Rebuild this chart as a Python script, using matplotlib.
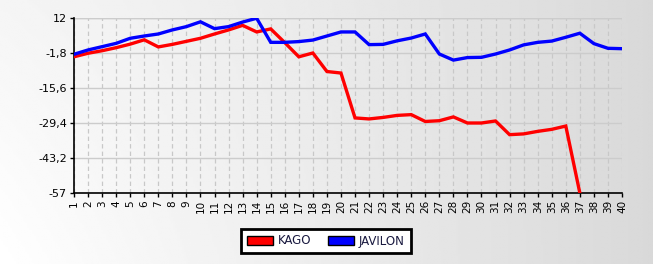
import numpy as np
import matplotlib
matplotlib.use('Agg')
import matplotlib.pyplot as plt
from matplotlib.patches import Patch

# series values
days = list(range(1, 41))
kago = [-3.3, -1.9, -0.9, 0.3, 1.7, 3.4, 0.6, 1.6, 2.8, 4.0,
        5.7, 7.3, 9.1, 6.5, 7.7, 2.3, -3.3, -1.8, -9.1, -9.7,
        -27.4, -27.8, -27.2, -26.4, -26.1, -28.8, -28.5, -27.0, -29.4, -29.4,
        -28.6, -34.0, -33.7, -32.7, -31.9, -30.6, -57.0]
javilon = [-2.3, -0.6, 0.7, 2.0, 4.0, 4.9, 5.7, 7.3, 8.6, 10.5,
           7.8, 8.6, 10.4, 11.9, 2.4, 2.4, 2.7, 3.3, 4.9, 6.5,
           6.5, 1.5, 1.6, 3.0, 4.1, 5.7, -2.2, -4.6, -3.6, -3.5,
           -2.2, -0.6, 1.4, 2.4, 2.9, 4.4, 6.0, 1.9, 0.05, -0.1]
yticks = [12, -1.8, -15.6, -29.4, -43.2, -57]
ytick_labels = ['12', '-1,8', '-15,6', '-29,4', '-43,2', '-57']

fig = plt.figure(figsize=(6.53, 2.64), dpi=100)

# background gradient, light on the left, grey on the right
bg = fig.add_axes([0, 0, 1, 1], zorder=-10)
gx = np.linspace(0, 1, 300)
gy = np.linspace(0, 1, 120)
X, Y = np.meshgrid(gx, gy)
shade = 1.0 - 0.15 * X - 0.04 * (1 - Y) * (1 - X) ** 2
bg.imshow(shade, cmap='gray', vmin=0, vmax=1, aspect='auto', extent=[0, 1, 0, 1])
bg.axis('off')

ax = fig.add_axes([74 / 653, 1 - 193 / 264, (622 - 74) / 653, (193 - 18) / 264])
ax.patch.set_alpha(0)

ax.plot(days[:len(kago)], kago, color='#ff0000', lw=2.4, solid_joinstyle='miter', zorder=3)
ax.plot(days, javilon, color='#0000ff', lw=2.4, solid_joinstyle='miter', zorder=3)

ax.set_xlim(1, 40)
ax.set_ylim(-57, 12)
ax.set_xticks(days)
ax.set_xticklabels([str(d) for d in days], rotation=90, fontsize=7.5)
ax.set_yticks(yticks)
ax.set_yticklabels(ytick_labels, fontsize=8)
ax.tick_params(axis='both', length=3, width=1, color='black', pad=2)

ax.grid(axis='y', color='#cccccc', lw=1, ls='-')
ax.grid(axis='x', color='#c8c8c8', lw=0.9, ls=(0, (3.5, 2.5)))
ax.axhline(12, color='#cccccc', lw=1, zorder=1)
for s in ['top', 'right']:
    ax.spines[s].set_visible(False)
for s in ['left', 'bottom']:
    ax.spines[s].set_linewidth(1.2)
    ax.spines[s].set_color('black')
ax.set_axisbelow(True)

handles = [Patch(facecolor='#ff0000', edgecolor='black', label='KAGO'),
           Patch(facecolor='#0000ff', edgecolor='black', label='JAVILON')]
leg = fig.legend(handles=handles, loc='center', bbox_to_anchor=(326 / 653, 1 - 241 / 264),
                 ncol=2, fontsize=8.5, frameon=True, fancybox=False,
                 handlelength=2.2, handleheight=0.9, columnspacing=1.4,
                 borderpad=0.5, handletextpad=0.4, labelcolor='#1a1a40')
leg.get_frame().set_edgecolor('black')
leg.get_frame().set_linewidth(2)
leg.get_frame().set_facecolor('white')
leg.get_frame().set_alpha(1)

fig.savefig('out.png', dpi=100)
